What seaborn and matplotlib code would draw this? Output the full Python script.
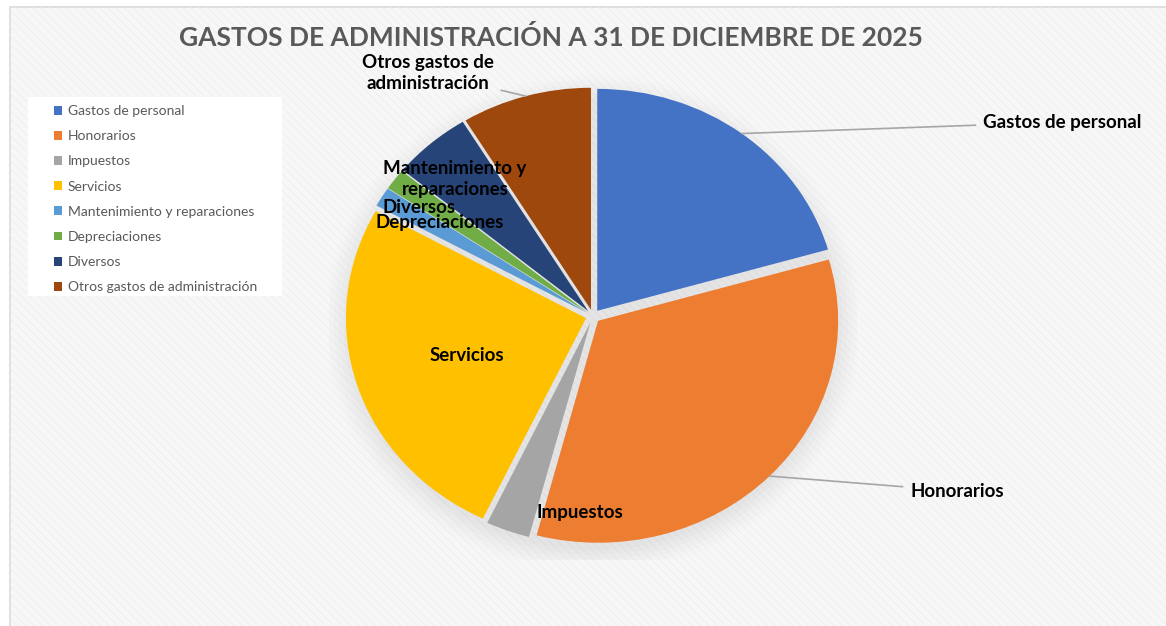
import matplotlib.pyplot as plt
import numpy as np
import seaborn as sns
from matplotlib.patches import Circle, Rectangle

# approximate shares (%)
categories = [
    "Gastos de personal",
    "Honorarios",
    "Impuestos",
    "Servicios",
    "Mantenimiento y reparaciones",
    "Depreciaciones",
    "Diversos",
    "Otros gastos de administración",
]
shares = [20.2, 33.0, 2.9, 25.5, 1.4, 1.5, 5.2, 8.6]
colors = ["#4472C4", "#ED7D31", "#A5A5A5", "#FFC000", "#5B9BD5", "#70AD47", "#264478", "#9E480E"]

slice_labels = [
    "Gastos de personal",
    "Honorarios",
    "Impuestos",
    "Servicios",
    "Mantenimiento y\nreparaciones",
    "Depreciaciones",
    "Diversos",
    "Otros gastos de\nadministración",
]
title = "GASTOS DE ADMINISTRACIÓN A 31 DE DICIEMBRE DE 2025"

sns.set_theme(style="white")
sns.set_palette(colors)
plt.rcParams["font.family"] = ["Lato", "DejaVu Sans"]

fig = plt.figure(figsize=(11.66, 6.26), dpi=100)
fig.patch.set_facecolor("white")
W, H = 1166, 626


def px_box(x0, y0, x1, y1):
    return (x0 / W, 1 - y1 / H, (x1 - x0) / W, (y1 - y0) / H)


# chart area with faint diagonal texture (kept below the axes)
x, y, w, h = px_box(10, 7, 1175, 640)
fig.add_artist(Rectangle((x, y), w, h, transform=fig.transFigure,
                         facecolor="#f7f7f7", edgecolor="#d9d9d9", lw=1.2, zorder=-3))
plt.rcParams["hatch.linewidth"] = 0.6
fig.add_artist(Rectangle((x, y), w, h, transform=fig.transFigure, hatch="\\\\\\\\",
                         facecolor="none", edgecolor="#eeeeee", lw=0, zorder=-2))

# legend box
x, y, w, h = px_box(28, 97, 282, 296)
fig.add_artist(Rectangle((x, y), w, h, transform=fig.transFigure,
                         facecolor="white", edgecolor="none", zorder=-1))

ax = fig.add_axes([0.282, 0.105, 0.453, 0.78])
ax.patch.set_alpha(0)

# soft shadow under the pie
for i, a in enumerate(np.linspace(0.05, 0.015, 6)):
    ax.add_patch(Circle((0.0, -0.035), 1.02 + 0.02 * i, facecolor="#9a9a9a",
                        edgecolor="none", alpha=a, zorder=0))

wedges, _ = ax.pie(
    shares,
    colors=colors,
    startangle=90,
    counterclock=False,
    explode=[0.03] * len(shares),
    wedgeprops={"linewidth": 0, "edgecolor": "none"},
)
ax.set_aspect("auto")
ax.set_xlim(-1.1, 1.1)
ax.set_ylim(-1.1, 1.1)

label_style = dict(fontsize=13.5, fontweight="bold", color="black")


def edge_point(wedge):
    mid = np.deg2rad((wedge.theta1 + wedge.theta2) / 2)
    cx, cy = wedge.center
    return cx + wedge.r * np.cos(mid), cy + wedge.r * np.sin(mid)


# labels with leader lines
leader = dict(arrowstyle="-", color="#a6a6a6", lw=1.2, shrinkA=3, shrinkB=0)
ax.annotate(slice_labels[0], xy=edge_point(wedges[0]), xytext=(1.625, 0.874),
            ha="left", va="center", arrowprops=leader, **label_style)
ax.annotate(slice_labels[1], xy=edge_point(wedges[1]), xytext=(1.321, -0.788),
            ha="left", va="center", arrowprops=leader, **label_style)
ax.annotate(slice_labels[7], xy=edge_point(wedges[7]), xytext=(-0.6875, 1.095),
            ha="center", va="center", linespacing=1.25, arrowprops=leader, **label_style)

# labels placed on / near the slices
inside = {2: (-0.054, -0.883), 3: (-0.525, -0.176), 4: (-0.575, 0.617),
          5: (-0.6375, 0.423), 6: (-0.725, 0.491)}
for i, (tx, ty) in inside.items():
    ax.text(tx, ty, slice_labels[i], ha="center", va="center",
            linespacing=1.3, zorder=5, **label_style)

fig.text(551 / W, 1 - 37 / H, title, ha="center", va="center",
         fontsize=19, fontweight="bold", color="#595959")

fig.legend(wedges, categories, loc="upper left", bbox_to_anchor=(54 / W, 1 - 105 / H),
           frameon=False, fontsize=10, labelcolor="#595959", handlelength=0.6,
           handleheight=0.6, handletextpad=0.4, labelspacing=0.95, borderpad=0,
           borderaxespad=0)

fig.savefig("out.png", dpi=100)
